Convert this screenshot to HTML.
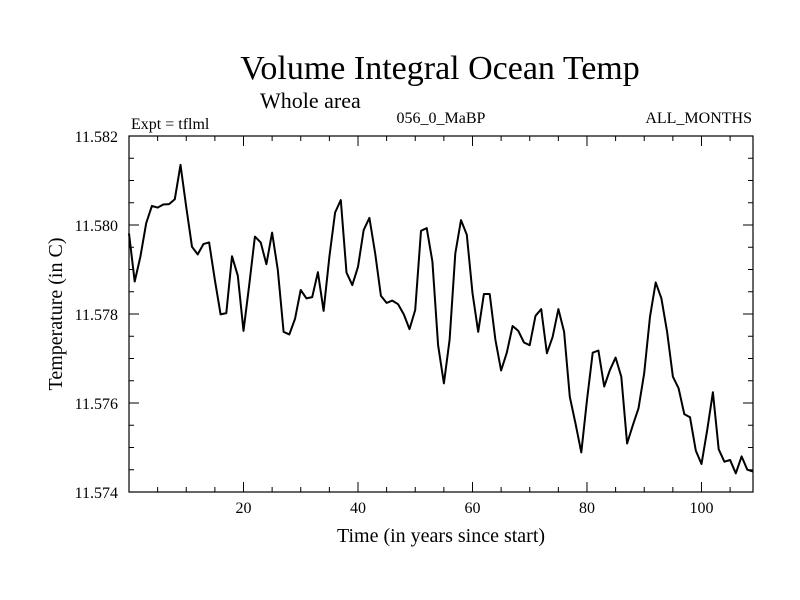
<!DOCTYPE html>
<html><head><meta charset="utf-8"><style>
html,body{margin:0;padding:0;background:#fff;}
svg{display:block;font-family:"Liberation Serif",serif;}
</style></head><body>
<svg id="chart" width="800" height="600" viewBox="0 0 800 600">
<text x="440" y="79" font-size="34" text-anchor="middle">Volume Integral Ocean Temp</text>
<text x="260" y="108" font-size="22">Whole area</text>
<text x="131" y="129" font-size="16">Expt = tflml</text>
<text x="441" y="123" font-size="16" text-anchor="middle">056_0_MaBP</text>
<text x="752" y="123" font-size="16" text-anchor="end">ALL_MONTHS</text>
<text transform="translate(62,314) rotate(-90)" font-size="20" text-anchor="middle">Temperature (in C)</text>
<text x="441" y="542" font-size="20" text-anchor="middle">Time (in years since start)</text>
<g id="axes"></g>
<g id="series"></g>
</svg>
<script>
const years = [];
for (let i = 0; i < 110; i++) years.push(i);
const temps = [11.57981,11.57873,11.57929,11.58004,11.58043,11.58039,11.58046,11.58047,11.58058,11.58135,
11.58041,11.57951,11.57934,11.57957,11.57961,11.57876,11.57799,11.57802,11.5793,11.57886,
11.57762,11.57865,11.57974,11.57961,11.57912,11.57983,11.57899,11.5776,11.57754,11.57789,
11.57854,11.57835,11.57838,11.57894,11.57807,11.57929,11.58028,11.58056,11.57893,11.57865,
11.57906,11.57989,11.58016,11.57936,11.57841,11.57825,11.5783,11.57822,11.57799,11.57766,
11.57809,11.57987,11.57993,11.57918,11.5773,11.57644,11.57742,11.57936,11.58011,11.57978,
11.57847,11.5776,11.57845,11.57845,11.57742,11.57673,11.57713,11.57773,11.57762,11.57736,
11.5773,11.57796,11.57811,11.57712,11.57748,11.57811,11.5776,11.57614,11.57554,11.57489,
11.57607,11.57713,11.57718,11.57637,11.57674,11.57702,11.57659,11.57509,11.5755,11.57588,
11.57667,11.57794,11.57871,11.57835,11.5776,11.57659,11.57633,11.57575,11.57568,11.57493,
11.57463,11.57539,11.57624,11.57496,11.57468,11.57472,11.57442,11.5748,11.5745,11.57446];
const xTickLabels = [20,40,60,80,100];
const yTickLabels = ["11.574","11.576","11.578","11.580","11.582"];
const X0=129,X1=753,Y0=136,Y1=492,xMin=0,xMax=109,yMin=11.574,yMax=11.582;
const xs=v=>X0+(v-xMin)/(xMax-xMin)*(X1-X0);
const ys=v=>Y1-(v-yMin)/(yMax-yMin)*(Y1-Y0);
const NS="http://www.w3.org/2000/svg";
const axes=document.getElementById('axes');
function mk(tag,attrs,parent){const e=document.createElementNS(NS,tag);for(const k in attrs)e.setAttribute(k,attrs[k]);parent.appendChild(e);return e;}
const frame=mk('rect',{x:X0,y:Y0,width:X1-X0,height:Y1-Y0,fill:'none',stroke:'#000','stroke-width':1.2},axes);


for(let t=5;t<=105;t+=5){
  const x=xs(t),L=(t%20===0)?10:5;
  const b=mk('line',{x1:x,x2:x,y1:Y1,y2:Y1-L,stroke:'#000'},axes);
  
  
  const tp=mk('line',{x1:x,x2:x,y1:Y0,y2:Y0+L,stroke:'#000'},axes);
  
  
}
xTickLabels.forEach(v=>{
  const t=mk('text',{x:xs(v),y:Y1+21,'font-size':16,'text-anchor':'middle'},axes);t.textContent=v;
  
  
});
for(let i=0;i<=16;i++){
  const v=yMin+i*0.0005,y=ys(v),L=(i%4===0)?10:5;
  const a=mk('line',{x1:X0,x2:X0+L,y1:y,y2:y,stroke:'#000'},axes);
  
  
  const b=mk('line',{x1:X1,x2:X1-L,y1:y,y2:y,stroke:'#000'},axes);
  
  
}
yTickLabels.forEach(s=>{
  const t=mk('text',{x:X0-11,y:ys(parseFloat(s))+6,'font-size':16,'text-anchor':'end'},axes);t.textContent=s;
  
  
});
const d=temps.map((v,i)=>(i?'L':'M')+xs(years[i]).toFixed(1)+','+ys(v).toFixed(1)).join('');
const line=mk('path',{d:d,fill:'none',stroke:'#000','stroke-width':2,'stroke-linejoin':'round'},document.getElementById('series'));


</script>
</body></html>
